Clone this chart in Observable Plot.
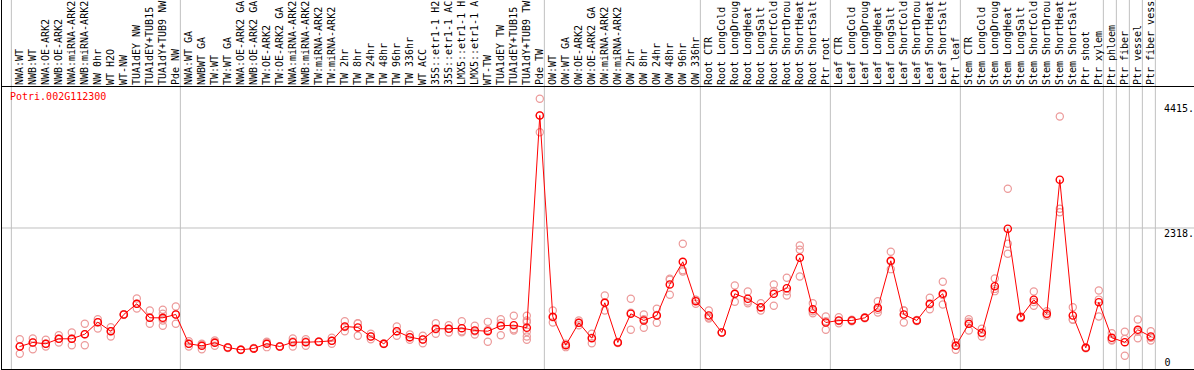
<!DOCTYPE html>
<html>
<head>
<meta charset="utf-8">
<script src="https://cdn.jsdelivr.net/npm/d3@7"></script>
<script src="https://cdn.jsdelivr.net/npm/@observablehq/plot@0.6"></script>
<style>
  html, body { margin: 0; padding: 0; background: #fff; }
  #chart svg { display: block; }
</style>
</head>
<body>
<div id="chart"></div>
<script>
const geneId = "Potri.002G112300";

const categories = [
  "NWA:WT", "NWB:WT", "NWA:OE-ARK2", "NWB:OE-ARK2", "NWA:miRNA-ARK2", "NWB:miRNA-ARK2",
  "NW 0hr", "WT H2O", "WT-NW", "TUA1dEY NW", "TUA1dEY+TUB15 NW", "TUA1dY+TUB9 NW", "Pde NW",
  "NWA:WT GA", "NWBWT GA", "TW:WT", "TW:WT GA", "NWA:OE-ARK2 GA", "NWB:OE-ARK2 GA",
  "TW:OE-ARK2", "TW:OE-ARK2 GA", "NWA:miRNA-ARK2 GA", "NWB:miRNA-ARK2 GA", "TW:miRNA-ARK2",
  "TW:miRNA-ARK2 GA", "TW 2hr", "TW 8hr", "TW 24hr", "TW 48hr", "TW 96hr", "TW 336hr", "WT ACC",
  "35S::etr1-1 H2O", "35S::etr1-1 ACC", "LMX5::etr1-1 H2O", "LMX5::etr1-1 ACC", "WT-TW",
  "TUA1dEY TW", "TUA1dEY+TUB15 TW", "TUA1dY+TUB9 TW", "Pde TW",
  "OW:WT", "OW:WT GA", "OW:OE-ARK2", "OW:OE-ARK2 GA", "OW:miRNA-ARK2", "OW:miRNA-ARK2 GA",
  "OW 2hr", "OW 8hr", "OW 24hr", "OW 48hr", "OW 96hr", "OW 336hr",
  "Root CTR", "Root LongCold", "Root LongDrought", "Root LongHeat", "Root LongSalt",
  "Root ShortCold", "Root ShortDrought", "Root ShortHeat", "Root ShortSalt", "Ptr root",
  "Leaf CTR", "Leaf LongCold", "Leaf LongDrought", "Leaf LongHeat", "Leaf LongSalt",
  "Leaf ShortCold", "Leaf ShortDrought", "Leaf ShortHeat", "Leaf ShortSalt", "Ptr leaf",
  "Stem CTR", "Stem LongCold", "Stem LongDrought", "Stem LongHeat", "Stem LongSalt",
  "Stem ShortCold", "Stem ShortDrought", "Stem ShortHeat", "Stem ShortSalt", "Ptr shoot",
  "Ptr xylem", "Ptr phloem", "Ptr fiber", "Ptr vessel", "Ptr fiber vessel"
];

// the header shows at most this many characters of each label
const labelChars = 14;

const means = [
  320, 388, 366, 450, 450, 528, 730, 578, 860, 1040, 804, 804, 860,
  366, 332, 383, 303, 265, 287, 366, 320, 393, 393, 400, 416, 658, 641, 489, 366, 578, 477, 438,
  619, 619, 629, 590, 578, 669, 679, 636, 4215,
  821, 342, 720, 460, 1057, 388, 872, 759, 843, 1366, 1748, 1084,
  843, 556, 1209, 1125, 983, 1209, 1303, 1816, 949, 725,
  759, 759, 804, 973, 1765, 860, 759, 1040, 1209, 332,
  703, 551, 1337, 2305, 814, 1108, 872, 3131, 843, 298, 1067,
  467, 393, 602, 489
];

const replicates = [
  [443, 197, 320], [455, 275, 388], [433, 320, 366], [511, 388, 450], [556, 342, 450],
  [703, 342, 528], [781, 624, 730], [646, 489, 578], [855, 860, 865], [1130, 961, 1040],
  [927, 703, 804], [939, 872, 759, 669, 790], [995, 703, 860],
  [410, 320, 366], [366, 275, 355], [421, 332, 396], [295, 303, 310], [260, 265, 270],
  [280, 287, 294], [400, 309, 388], [315, 320, 325], [455, 320, 404], [443, 332, 404],
  [395, 400, 405], [467, 366, 416], [747, 578, 650], [713, 501, 708], [534, 443, 489],
  [360, 366, 372], [658, 501, 578], [523, 433, 477], [501, 376, 438], [713, 534, 610],
  [680, 556, 619], [747, 578, 560], [669, 523, 578], [736, 400, 598], [781, 511, 715],
  [838, 590, 610], [838, 759, 568, 489, 433, 729], [4496, 3933, 4216],
  [927, 725, 811], [366, 309, 351], [759, 679, 722], [534, 376, 470], [1180, 927, 1064],
  [380, 388, 396], [1125, 602, 889], [860, 636, 781], [956, 720, 853], [1462, 1192, 1444],
  [2052, 1585, 1607], [1108, 1040, 1104],
  [927, 792, 810], [550, 556, 562], [1349, 1074, 1204], [1248, 1050, 1077], [1050, 927, 972],
  [1366, 1006, 1255], [1479, 1180, 1250], [2023, 1951, 1500], [1050, 882, 915], [826, 602, 747],
  [814, 713, 750], [745, 759, 773], [795, 804, 813], [1084, 894, 941], [1917, 1624, 1754],
  [927, 725, 928], [750, 759, 768], [1141, 949, 1030], [1411, 1028, 1188], [388, 265, 343],
  [781, 590, 738], [619, 489, 545], [1467, 1253, 1291], [2979, 2052, 1883], [800, 814, 828],
  [1248, 1006, 1070], [916, 838, 862], [4198, 2642, 2584], [983, 770, 776], [290, 298, 306],
  [1264, 826, 1111], [545, 421, 435], [568, 164, 447], [775, 460, 571], [578, 467, 422]
];

// index of the first category of each group (last entry closes the final group)
const groupStarts = [0, 13, 41, 53, 63, 73, 84, 85, 86, 87, 88];

const tickValues = [0, 2318, 4415];
const tickLabels = ["0", "2318.", "4415."];
const gridValues = [2318];
const yMax = 4703;

const rows = categories.map((c, i) => ({i, c, shown: c.slice(0, labelChars).trimEnd(), mean: means[i]}));
const repRows = replicates.flatMap((r, i) => r.map(v => ({i, v})));
const ticks = tickValues.map((v, k) => ({v, label: tickLabels[k]}));

const plot = Plot.plot({
  width: 1194,
  height: 370,
  marginTop: 0,
  marginLeft: 1,
  marginRight: 0,
  marginBottom: 1,
  style: {fontFamily: "'DejaVu Sans Mono', monospace", fontSize: "10px", background: "#fff"},
  x: {type: "linear", domain: [0, 87], range: [19.3, 1150.3], axis: null},
  y: {type: "linear", domain: [0, yMax], range: [365, 86], axis: null},
  marks: [
    Plot.ruleX(groupStarts, {x: d => d - 0.65, stroke: "#c0c0c0", strokeWidth: 1}),
    Plot.ruleY(gridValues, {stroke: "#c0c0c0", strokeWidth: 1}),
    Plot.ruleY([yMax], {stroke: "#000", strokeWidth: 1}),
    Plot.frame({anchor: "left", stroke: "#000"}),
    Plot.frame({anchor: "bottom", stroke: "#000"}),
    Plot.text(rows, {
      x: "i", text: "shown", frameAnchor: "top", dy: 84.6,
      rotate: -90, textAnchor: "start", lineAnchor: "middle", fill: "#000"
    }),
    Plot.text([geneId], {
      text: d => d, frameAnchor: "top-left", dx: 8.5, dy: 92.5,
      textAnchor: "start", lineAnchor: "top", fill: "#ff0000"
    }),
    Plot.text(ticks.filter(d => d.v > 0), {
      y: "v", text: "label", frameAnchor: "right", dx: -30.5, dy: 1.5,
      textAnchor: "start", lineAnchor: "top", fill: "#000"
    }),
    Plot.text(ticks.filter(d => d.v === 0), {
      y: "v", text: "label", frameAnchor: "right", dx: -30, dy: 0,
      textAnchor: "start", lineAnchor: "bottom", fill: "#000"
    }),
    Plot.dot(repRows, {x: "i", y: "v", r: 3.6, stroke: "#ec9a9a", strokeWidth: 1.2, fill: "none"}),
    Plot.line(rows, {x: "i", y: "mean", stroke: "#ff0000", strokeWidth: 1}),
    Plot.dot(rows, {x: "i", y: "mean", r: 3.6, stroke: "#ff0000", strokeWidth: 1.4, fill: "none"})
  ]
});

document.getElementById("chart").appendChild(plot);
</script>
</body>
</html>
